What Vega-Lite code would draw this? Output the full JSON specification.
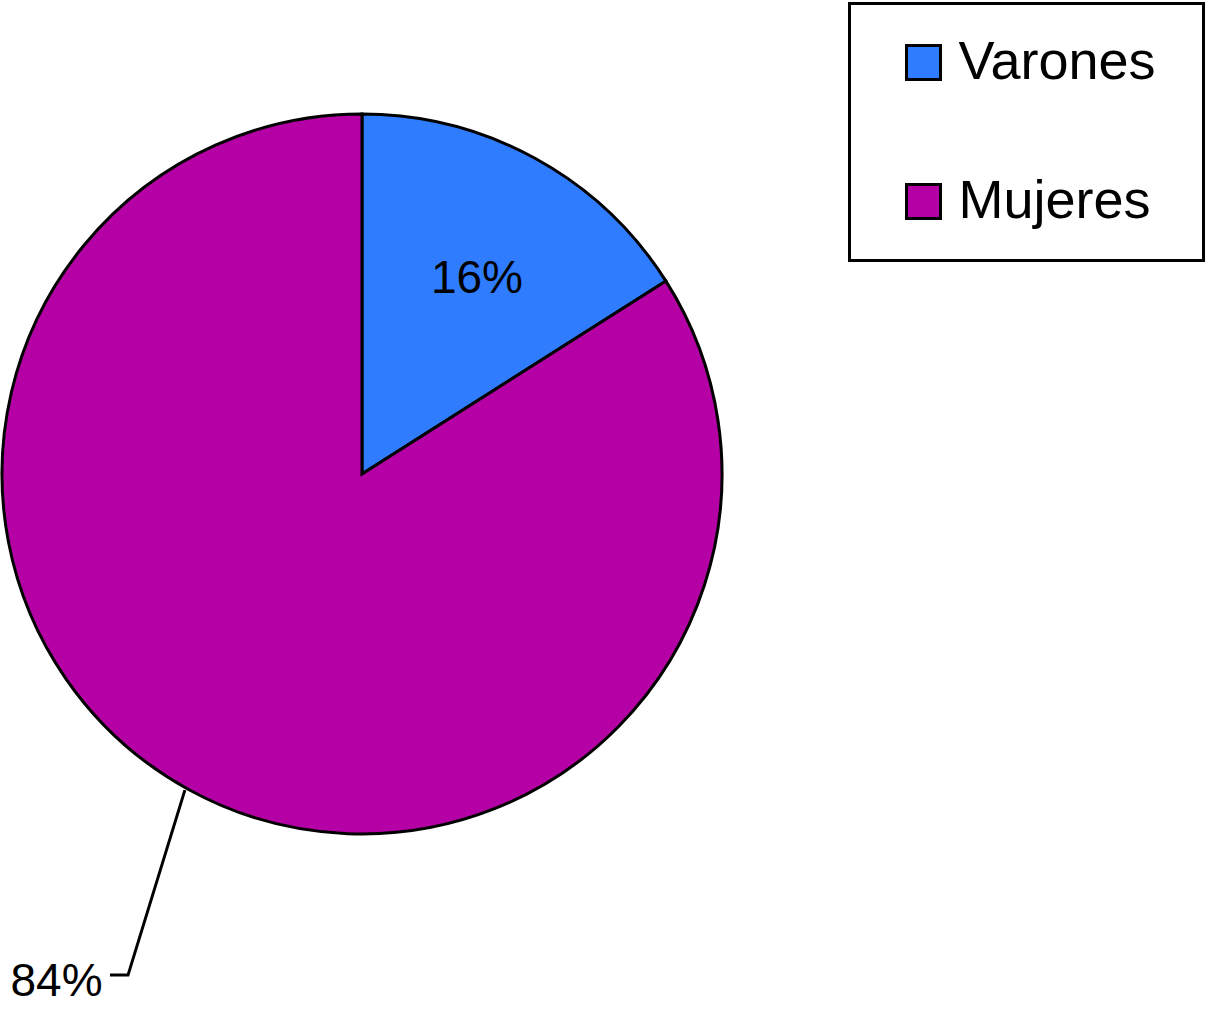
{
  "$schema": "https://vega.github.io/schema/vega-lite/v6.json",
  "width": 724,
  "height": 720,
  "autosize": {"type": "none"},
  "padding": {"left": 0, "top": 114, "right": 484, "bottom": 187},
  "background": "white",
  "config": {"view": {"stroke": null}, "font": "Liberation Sans"},
  "datasets": {
    "sexo": [
      {"sexo": "Varones", "valor": 16, "etiqueta": "16%"},
      {"sexo": "Mujeres", "valor": 84, "etiqueta": "84%"}
    ],
    "guia": [
      {"paso": 1, "gx": -49.2, "gy": -87.8},
      {"paso": 2, "gx": -65.0, "gy": -139.2},
      {"paso": 3, "gx": -70.0, "gy": -139.2}
    ]
  },
  "layer": [
    {
      "data": {"name": "sexo"},
      "mark": {"type": "arc", "stroke": "black", "strokeWidth": 3},
      "encoding": {
        "theta": {"field": "valor", "type": "quantitative", "stack": true},
        "order": {"field": "valor", "sort": "ascending"},
        "color": {
          "field": "sexo",
          "type": "nominal",
          "scale": {"domain": ["Varones", "Mujeres"], "range": ["#2F7CFF", "#B400A4"]},
          "legend": {
            "title": " ",
            "titleOrient": "right",
            "titlePadding": 16,
            "titleFontSize": 2,
            "titleColor": "white",
            "orient": "none",
            "legendX": 849.5,
            "legendY": -110.5,
            "direction": "vertical",
            "symbolType": "square",
            "symbolSize": 1156,
            "symbolStrokeColor": "black",
            "symbolStrokeWidth": 3,
            "symbolOffset": 15,
            "labelFontSize": 54,
            "labelFont": "Liberation Sans",
            "labelColor": "black",
            "labelOffset": 8,
            "labelLimit": 400,
            "rowPadding": 85,
            "padding": 32,
            "strokeColor": "black",
            "fillColor": "white",
            "encode": {"legend": {"update": {"strokeWidth": {"value": 3}}}}
          }
        }
      }
    },
    {
      "data": {"name": "sexo"},
      "mark": {"type": "text", "radius": 222, "dx": 8, "fontSize": 46, "font": "Liberation Sans", "color": "black", "baseline": "middle", "align": "center"},
      "encoding": {
        "theta": {"field": "valor", "type": "quantitative", "stack": true},
        "order": {"field": "valor", "sort": "ascending"},
        "text": {"condition": {"test": "datum.sexo === 'Varones'", "field": "etiqueta"}, "value": ""}
      }
    },
    {
      "data": {"name": "sexo"},
      "mark": {"type": "text", "radius": 580, "dx": 20, "fontSize": 46, "font": "Liberation Sans", "color": "black", "baseline": "middle", "align": "right"},
      "encoding": {
        "theta": {"field": "valor", "type": "quantitative", "stack": true},
        "order": {"field": "valor", "sort": "ascending"},
        "text": {"condition": {"test": "datum.sexo === 'Mujeres'", "field": "etiqueta"}, "value": ""}
      }
    },
    {
      "data": {"name": "guia"},
      "mark": {"type": "line", "color": "black", "strokeWidth": 3, "clip": false},
      "encoding": {
        "x": {"field": "gx", "type": "quantitative", "scale": {"domain": [-100.56, 100.56], "nice": false, "zero": false}, "axis": null},
        "y": {"field": "gy", "type": "quantitative", "scale": {"domain": [-100, 100], "nice": false, "zero": false}, "axis": null},
        "order": {"field": "paso"}
      }
    }
  ]
}
